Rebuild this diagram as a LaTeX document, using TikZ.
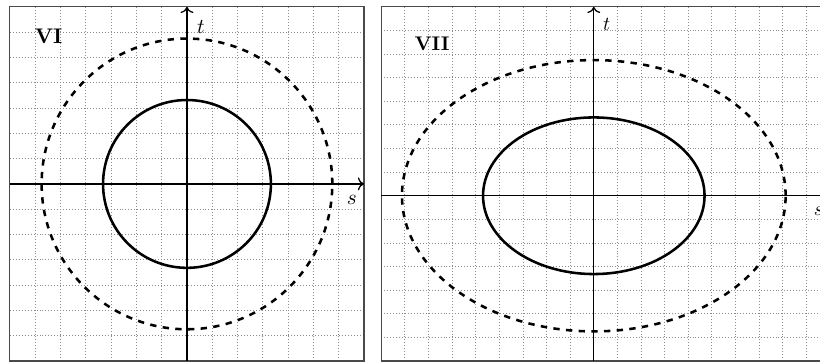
\documentclass[tikz,border=0pt]{standalone}
\usepackage{amsmath,amssymb}
\usepackage{tikz}
\usetikzlibrary{arrows.meta, positioning, calc}
\definecolor{mframe}{HTML}{4A4A4A}
\definecolor{mgrid}{HTML}{8C8C8C}
\tikzset{
  frm/.style={draw=mframe, line width=0.6pt},
  grd/.style={mgrid, densely dotted, line width=0.4pt},
  axarr/.style={->, semithick, black},
  lvl/.style={very thick, black},
  dlvl/.style={very thick, dashed, black},
  plabel/.style={font=\bfseries, inner sep=0pt},
  axlabel/.style={inner sep=0pt},
}

\begin{document}
\begin{tikzpicture}[x=0.42cm, y=0.42cm]
  \useasboundingbox (-7.39,-7.075) rectangle (25.02,7.27);

  %% Panel VI: circles
  \draw[grd, step={(1,1)}] (-7,-7) grid (7,7);
  \draw[frm] (-7,-7) rectangle (7,7);
  \coordinate (sLa) at (-7,0);
  \coordinate (sRa) at (7,0);
  \coordinate (tBa) at (0,-7);
  \coordinate (tTa) at (0,7);
  \draw[axarr] (sLa) -- (sRa);
  \draw[axarr] (tBa) -- (tTa);
  \node[axlabel] (sa) at ($(sRa)+(-0.48,-0.65)$) {$s$};
  \node[axlabel] (ta) at ($(tTa)+(0.55,-0.8)$) {$t$};
  \node[plabel] (six) at (-5.47,5.82) {VI};
  \draw[lvl] (0,0) circle[radius={sqrt(11)}];
  \draw[dlvl] (0,0) circle[radius={sqrt(33)}];

  %% Panel VII: ellipses
  \begin{scope}[shift={(16.08,-0.467)}, scale=0.9333, transform shape]
    \draw[grd, step={(1,1)}] (-9,-7) grid (10,8);
    \draw[frm] (-9,-7) rectangle (10,8);
    \coordinate (sLb) at (-9,0);
    \coordinate (sRb) at (10,0);
    \coordinate (tBb) at (0,-7);
    \coordinate (tTb) at (0,8);
    \draw[axarr] (sLb) -- (sRb);
    \draw[axarr] (tBb) -- (tTb);
    \node[axlabel] (sb) at ($(sRb)+(-0.48,-0.65)$) {$s$};
    \node[axlabel] (tb) at ($(tTb)+(0.55,-0.75)$) {$t$};
    \node[plabel] (seven) at (-6.85,6.45) {VII};
    \draw[lvl] (0,0) ellipse[x radius={sqrt(22)}, y radius={sqrt(11)}];
    \draw[dlvl] (0,0) ellipse[x radius={sqrt(66)}, y radius={sqrt(33)}];
  \end{scope}

\end{tikzpicture}
\end{document}
